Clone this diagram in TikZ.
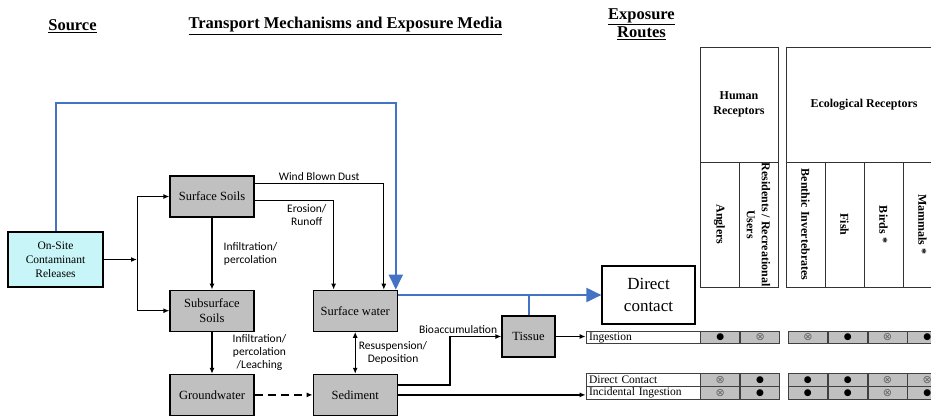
\documentclass[tikz,border=0pt]{standalone}
\usepackage{fontspec}
\setmainfont{Liberation Serif}
\newfontfamily\mechfont{Carlito}
\newfontfamily\dejavumarks{DejaVu Sans}
\usetikzlibrary{arrows.meta, positioning}

\definecolor{mediagrey}{RGB}{192,192,192}
\definecolor{cellgrey}{RGB}{192,192,192}
\definecolor{sourcecyan}{RGB}{200,245,247}
\definecolor{routeblue}{RGB}{68,114,196}

\newcommand{\filledmark}{{\dejavumarks\fontsize{9}{9}\selectfont ●}}
\newcommand{\crossedmark}{{\dejavumarks\fontsize{11}{11}\selectfont\color{black!60}⊗}}

\begin{document}
\begin{tikzpicture}[
        x=1pt, y=-1pt,
        header/.style={font=\fontsize{16.5}{18}\selectfont\bfseries, align=center},
        medium/.style={rectangle, draw, line width=1.2pt, fill=mediagrey, align=center, inner sep=2pt, minimum width=84, minimum height=41, font=\fontsize{12.5}{14.5}\selectfont},
        route/.style={rectangle, draw, line width=1.2pt, fill=white, align=center, minimum width=93, minimum height=58, font=\fontsize{17}{22}\selectfont},
        receptor/.style={rectangle, draw=black!80, line width=1pt, align=center, inner sep=1pt, font=\fontsize{12}{15}\selectfont\bfseries},
        recepcol/.style={receptor, rotate=-90, minimum width=125, minimum height=39},
        rowlabel/.style={rectangle, draw=black!75, line width=0.8pt, fill=white, minimum width=114, text width=108, minimum height=12.5, align=left, inner xsep=3pt, inner ysep=0.5pt, font=\fontsize{11.5}{12}\selectfont},
        routecell/.style={rectangle, draw=black!75, line width=0.8pt, fill=cellgrey, minimum width=39, minimum height=12.5, inner sep=0pt},
        mech/.style={font=\mechfont\fontsize{11.5}{13}\selectfont, align=center, inner sep=2pt},
        arrow/.style={-{Latex[length=6pt,width=5pt]}, line width=1.4pt},
        dblarrow/.style={{Latex[length=6pt,width=5pt]}-{Latex[length=6pt,width=5pt]}, line width=1.4pt},
        thinarrow/.style={-{Latex[length=6pt,width=5pt]}, line width=0.9pt},
        thinline/.style={line width=0.9pt},
        bluearrow/.style={-{Triangle[length=15pt,width=14pt]}, line width=2pt, draw=routeblue},
        blueline/.style={line width=2pt, draw=routeblue}
    ]
    \useasboundingbox (0,0) rectangle (931,415);
    \clip (0,0) rectangle (931,415);

    % Headers
    \node (hsource) [header] at (72.5,26) {\underline{Source}};
    \node (htransport) [header] at (345.5,26) {\underline{Transport Mechanisms and Exposure Media}};
    \node (hroutes) [header] at (641.5,24) {\underline{Exposure}\\\underline{Routes}};

    % Source and exposure media
    \node (onsite) [medium, fill=sourcecyan, minimum width=95, minimum height=55, font=\fontsize{11.5}{14}\selectfont] at (55.5,259.5) {On-Site\\Contaminant\\Releases};
    \node (surfsoils) [medium] at (212,196.5) {Surface Soils};
    \node (subsoils) [medium, below=72pt of surfsoils] {Subsurface\\Soils};
    \node (ground) [medium, below=42pt of subsoils] {Groundwater};
    \node (surfwater) [medium, right=58pt of subsoils] {Surface water};
    \node (sediment) [medium, right=58pt of ground] {Sediment};
    \node (tissue) [medium, minimum width=53] at (528.5,336.5) {Tissue};
    \node (dcontact) [route] at (648.5,295) {Direct\\contact};

    % Receptors
    \node (human) [receptor, minimum width=78, minimum height=115] at (739,104.5) {Human\\Receptors};
    \node (eco) [receptor, minimum width=156, minimum height=115] at (864,104.5) {Ecological Receptors};
    \node (anglers) [recepcol] at (719.5,224.5) {Anglers};
    \node (residents) [recepcol, inner sep=0pt] at (758.5,224.5) {Residents / Recreational\\Users};
    \node (benthic) [recepcol] at (805.5,224.5) {Benthic Invertebrates};
    \node (fish) [recepcol] at (844.5,224.5) {Fish};
    \node (birds) [recepcol] at (883.5,224.5) {Birds *};
    \node (mammals) [recepcol] at (922.5,224.5) {Mammals *};

    % Exposure route rows
    \node (ing) [rowlabel] at (643,337.5) {Ingestion};
    \node (ing1) [routecell, right=0pt of ing] {\filledmark};
    \node (ing2) [routecell, right=0pt of ing1] {\crossedmark};
    \node (ing3) [routecell, right=8pt of ing2] {\crossedmark};
    \node (ing4) [routecell, right=0pt of ing3] {\filledmark};
    \node (ing5) [routecell, right=0pt of ing4] {\crossedmark};
    \node (ing6) [routecell, right=0pt of ing5] {\filledmark};

    \node (dc) [rowlabel] at (643,379.75) {Direct Contact};
    \node (dc1) [routecell, right=0pt of dc] {\crossedmark};
    \node (dc2) [routecell, right=0pt of dc1] {\filledmark};
    \node (dc3) [routecell, right=8pt of dc2] {\filledmark};
    \node (dc4) [routecell, right=0pt of dc3] {\filledmark};
    \node (dc5) [routecell, right=0pt of dc4] {\crossedmark};
    \node (dc6) [routecell, right=0pt of dc5] {\crossedmark};

    \node (ii) [rowlabel, below=0pt of dc] {Incidental Ingestion};
    \node (ii1) [routecell, right=0pt of ii] {\crossedmark};
    \node (ii2) [routecell, right=0pt of ii1] {\filledmark};
    \node (ii3) [routecell, right=8pt of ii2] {\filledmark};
    \node (ii4) [routecell, right=0pt of ii3] {\filledmark};
    \node (ii5) [routecell, right=0pt of ii4] {\crossedmark};
    \node (ii6) [routecell, right=0pt of ii5] {\filledmark};

    % Arrows
    \coordinate (split) at (137,259.5);
    \draw [arrow] (onsite.east) -- (split);
    \draw [thinline] (split |- surfsoils.west) -- (split |- subsoils.west);
    \draw [arrow] (split |- surfsoils.west) -- (surfsoils.west);
    \draw [arrow] (split |- subsoils.west) -- (subsoils.west);
    \draw [arrow] (surfsoils) -- node [mech, right=9pt] {Infiltration/\\percolation} (subsoils);
    \draw [arrow] (subsoils) -- node [mech, right=18pt] {Infiltration/\\percolation\\/Leaching} (ground);
    \draw [arrow, dash pattern=on 8pt off 5pt] (ground) -- (sediment);
    \draw [thinarrow] ([yshift=13pt]surfsoils.east) -| node [mech, pos=0.25, above=0pt] {Wind Blown Dust} ([xshift=-14pt]surfwater.north east);
    \draw [arrow] ([yshift=-4pt]surfsoils.east) -| node [mech, pos=0.33, below=1pt] {Erosion/\\Runoff} ([xshift=21pt]surfwater.north west);
    \draw [dblarrow] (surfwater) -- node [mech, right=1pt] {Resuspension/\\Deposition} (sediment);
    \draw [arrow] ([yshift=10pt]sediment.east) -- ++(52,0) |- node [mech, pos=0.58, above=0pt] {Bioaccumulation} (tissue.west);
    \draw [arrow] (sediment.east) -- (sediment.east -| ii.west);
    \draw [arrow] (tissue.east) -- (tissue.east -| ing.west);

    % Direct contact pathway
    \draw [bluearrow] (onsite.north) -- ++(0,-128) -| ([xshift=-2pt]surfwater.north east);
    \draw [bluearrow] (surfwater.east |- dcontact.west) -- (dcontact.west);
    \draw [blueline] (tissue.north) -- (tissue.north |- dcontact.west);

\end{tikzpicture}
\end{document}
